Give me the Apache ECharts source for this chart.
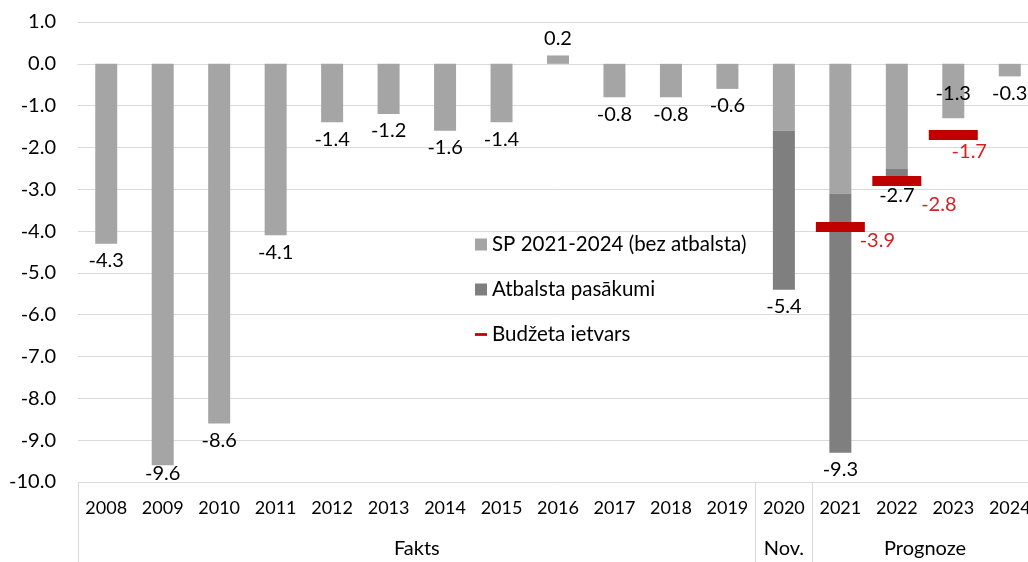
<!DOCTYPE html>
<html>
<head>
<meta charset="utf-8">
<script src="https://cdn.jsdelivr.net/npm/echarts@6/dist/echarts.min.js"></script>
<style>
  html, body { margin: 0; padding: 0; background: #fff; }
  #chart { width: 1028px; height: 562px; }
</style>
</head>
<body>
<div id="chart"></div>
<script>
// gadi
var years = ['2008', '2009', '2010', '2011', '2012', '2013', '2014', '2015', '2016',
  '2017', '2018', '2019', '2020', '2021', '2022', '2023', '2024'];
// SP 2021-2024 (bez atbalsta)
var spBase = [-4.3, -9.6, -8.6, -4.1, -1.4, -1.2, -1.6, -1.4, 0.2,
  -0.8, -0.8, -0.6, -1.6, -3.1, -2.5, -1.3, -0.3];
// Atbalsta pasākumi
var support = [0, 0, 0, 0, 0, 0, 0, 0, 0, 0, 0, 0, -3.8, -6.2, -0.2, 0, 0];
// Budžeta ietvars
var budgetYears = ['2021', '2022', '2023'];
var budgetValues = [-3.9, -2.8, -1.7];
// apakšējā līmeņa grupas
var groupNames = ['Fakts', 'Nov.', 'Prognoze'];
var groupSpans = [12, 1, 4];
var yTicks = { min: -10, max: 1, interval: 1 };

var names = ['SP 2021-2024 (bez atbalsta)', 'Atbalsta pasākumi', 'Budžeta ietvars'];
var FONT = 'Lato';

// kopsumma (etiķetēm)
var totals = spBase.map(function (v, i) {
  return Math.round((v + support[i]) * 10) / 10;
});

var totalData = totals.map(function (v, i) {
  var item = {
    value: v,
    label: { position: v < 0 ? 'bottom' : 'top' }
  };
  if (years[i] === '2009') item.label.offset = [0, -9];
  if (years[i] === '2022') item.label.offset = [0, 2];
  if (years[i] === '2023') { item.label.position = 'inside'; item.label.offset = [0, 3]; }
  return item;
});

// sarkano etiķešu nobīdes
var redShift = { '2021': [37, 14], '2022': [42, 24], '2023': [16, 17] };
var budgetData = budgetYears.map(function (y, i) {
  return {
    value: [y, budgetValues[i]],
    label: { offset: redShift[y] }
  };
});

// grupu ass: 2*n+1 punkti uz robežām un pusēm
var groupAxis = [];
var edges = [0];
var pos = 0;
for (var g = 0; g < groupSpans.length; g++) {
  pos += groupSpans[g];
  edges.push(pos * 2);
}
for (var k = 0; k <= years.length * 2; k++) groupAxis.push('');
var start = 0;
for (var g2 = 0; g2 < groupSpans.length; g2++) {
  groupAxis[start + groupSpans[g2]] = groupNames[g2];
  start += groupSpans[g2] * 2;
}

var chart = echarts.init(document.getElementById('chart'), null, { renderer: 'canvas' });

var option = {
  backgroundColor: '#ffffff',
  animation: false,
  textStyle: { fontFamily: FONT },
  grid: { left: 78, top: 22, width: 960, height: 460, containLabel: false, outerBoundsMode: 'none' },
  legend: {
    orient: 'vertical',
    left: 470,
    top: 229,
    itemWidth: 12,
    itemHeight: 12,
    itemGap: 24,
    selectedMode: false,
    textStyle: { fontFamily: FONT, fontSize: 20.5, color: '#000' },
    data: [
      { name: names[0], icon: 'rect' },
      { name: names[1], icon: 'rect' },
      { name: names[2], icon: 'path://M0,0 M13,12 M0,4.5 L13,4.5 L13,7.5 L0,7.5 Z' }
    ]
  },
  xAxis: [
    {
      type: 'category',
      data: years,
      position: 'bottom',
      axisLine: { show: true, lineStyle: { color: '#D9D9D9', width: 1 } },
      axisTick: { show: false },
      axisLabel: { interval: 0, margin: 17, fontSize: 18, color: '#000', fontFamily: FONT },
      splitLine: { show: false }
    },
    {
      type: 'category',
      data: groupAxis,
      position: 'bottom',
      boundaryGap: false,
      axisLine: { show: false },
      axisTick: {
        show: true,
        length: 80,
        interval: function (idx) { return edges.indexOf(idx) >= 0; },
        lineStyle: { color: '#D9D9D9', width: 1 }
      },
      axisLabel: {
        interval: function (idx, val) { return val !== ''; },
        margin: 57,
        fontSize: 20,
        color: '#000',
        fontFamily: FONT
      },
      splitLine: { show: false }
    }
  ],
  yAxis: {
    type: 'value',
    min: yTicks.min,
    max: yTicks.max,
    interval: yTicks.interval,
    axisLine: { show: false },
    axisTick: { show: false },
    axisLabel: {
      margin: 22,
      fontSize: 20,
      color: '#000',
      fontFamily: FONT,
      formatter: function (v) { return v.toFixed(1); }
    },
    splitLine: { lineStyle: { color: '#D9D9D9', width: 1 } }
  },
  series: [
    {
      name: names[0],
      type: 'bar',
      stack: 'sp',
      barWidth: 22,
      data: spBase,
      itemStyle: { color: '#A5A5A5' },
      silent: true
    },
    {
      name: names[1],
      type: 'bar',
      stack: 'sp',
      barWidth: 22,
      data: support,
      itemStyle: { color: '#7F7F7F' },
      silent: true
    },
    {
      name: 'kopā',
      type: 'bar',
      barWidth: 22,
      barGap: '-100%',
      data: totalData,
      itemStyle: { color: 'rgba(0,0,0,0)' },
      silent: true,
      z: 4,
      label: {
        show: true,
        distance: 7,
        fontSize: 20,
        color: '#000',
        fontFamily: FONT,
        formatter: function (p) { return p.value.toFixed(1); }
      }
    },
    {
      name: names[2],
      type: 'scatter',
      symbol: 'rect',
      symbolSize: [49, 10],
      data: budgetData,
      itemStyle: { color: '#C00000', opacity: 1 },
      silent: true,
      z: 5,
      label: {
        show: true,
        position: 'inside',
        fontSize: 20,
        color: '#D42222',
        fontFamily: FONT,
        formatter: function (p) { return p.value[1].toFixed(1); }
      }
    }
  ]
};

chart.setOption(option);
</script>
</body>
</html>
